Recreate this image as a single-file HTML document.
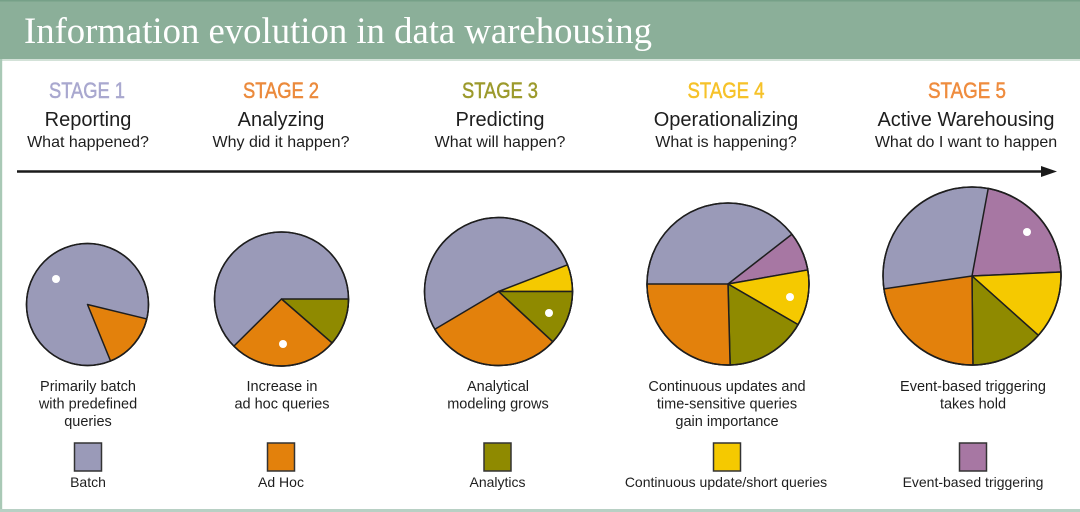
<!DOCTYPE html>
<html>
<head>
<meta charset="utf-8">
<style>
  html,body{margin:0;padding:0;background:#fff;}
  body{width:1080px;height:512px;overflow:hidden;}
  svg{display:block;}
  .s{font-family:"Liberation Sans",Arial,sans-serif;}
</style>
</head>
<body>
<svg width="1080" height="512" viewBox="0 0 1080 512" xmlns="http://www.w3.org/2000/svg">
  <rect x="0" y="0" width="1080" height="512" fill="#ffffff"/>
  <!-- title bar -->
  <rect x="0" y="0" width="1080" height="59" fill="#8baf99"/>
  <rect x="0" y="0" width="1080" height="1.5" fill="#76a088"/>
  <rect x="0" y="59" width="1080" height="2" fill="#d3e2d8"/>
  <text x="24" y="43" font-family="'Liberation Serif','Times New Roman',serif" font-size="37" fill="#ffffff" textLength="628" lengthAdjust="spacingAndGlyphs">Information evolution in data warehousing</text>
  <!-- frame borders -->
  <rect x="0" y="59" width="2.2" height="453" fill="#a9c9b6"/>
  <rect x="0" y="509" width="1080" height="3" fill="#b8d0c4"/>

  <!-- stage headers -->
  <g class="s" text-anchor="middle">
    <text x="87" y="98" font-size="22" fill="#a9a8cf" stroke="#a9a8cf" stroke-width="0.5" textLength="76" lengthAdjust="spacingAndGlyphs">STAGE 1</text>
    <text x="281" y="98" font-size="22" fill="#eb8a3c" stroke="#eb8a3c" stroke-width="0.5" textLength="76" lengthAdjust="spacingAndGlyphs">STAGE 2</text>
    <text x="500" y="98" font-size="22" fill="#9c9a2c" stroke="#9c9a2c" stroke-width="0.5" textLength="76" lengthAdjust="spacingAndGlyphs">STAGE 3</text>
    <text x="726" y="98" font-size="22" fill="#f6c229" stroke="#f6c229" stroke-width="0.5" textLength="77" lengthAdjust="spacingAndGlyphs">STAGE 4</text>
    <text x="967" y="98" font-size="22" fill="#ef8c3e" stroke="#ef8c3e" stroke-width="0.5" textLength="78" lengthAdjust="spacingAndGlyphs">STAGE 5</text>

    <g font-size="20" fill="#1e1e1e">
      <text x="88" y="126">Reporting</text>
      <text x="281" y="126">Analyzing</text>
      <text x="500" y="126">Predicting</text>
      <text x="726" y="126">Operationalizing</text>
      <text x="966" y="126">Active Warehousing</text>
    </g>
    <g font-size="16" fill="#1e1e1e">
      <text x="88" y="147">What happened?</text>
      <text x="281" y="147">Why did it happen?</text>
      <text x="500" y="147">What will happen?</text>
      <text x="726" y="147">What is happening?</text>
      <text x="966" y="147">What do I want to happen</text>
    </g>
  </g>

  <!-- arrow -->
  <line x1="17" y1="171.5" x2="1046" y2="171.5" stroke="#1a1a1a" stroke-width="2.5"/>
  <polygon points="1041,166 1057,171.5 1041,177" fill="#1a1a1a"/>

  <!-- pies -->
  <g stroke="#1e1e1e" stroke-width="1.5" stroke-linejoin="round">
    <!-- Pie 1 -->
    <circle cx="87.5" cy="304.5" r="61" fill="#9a9ab8"/>
    <path d="M87.5,304.5 L146.77,318.95 A61,61 0 0 1 110.55,360.98 Z" fill="#e3810c"/>
    <circle cx="87.5" cy="304.5" r="61" fill="none"/>

    <!-- Pie 2 -->
    <circle cx="281.5" cy="299" r="67" fill="#9a9ab8"/>
    <path d="M281.5,299 L348.5,299 A67,67 0 0 1 332.06,342.96 Z" fill="#8f8a00"/>
    <path d="M281.5,299 L332.06,342.96 A67,67 0 0 1 233.88,346.13 Z" fill="#e3810c"/>
    <circle cx="281.5" cy="299" r="67" fill="none"/>

    <!-- Pie 3 -->
    <circle cx="498.5" cy="291.5" r="74" fill="#9a9ab8"/>
    <path d="M498.5,291.5 L567.54,264.86 A74,74 0 0 1 572.5,291.5 Z" fill="#f5c900"/>
    <path d="M498.5,291.5 L572.5,291.5 A74,74 0 0 1 552.79,341.78 Z" fill="#8f8a00"/>
    <path d="M498.5,291.5 L552.79,341.78 A74,74 0 0 1 434.87,329.28 Z" fill="#e3810c"/>
    <circle cx="498.5" cy="291.5" r="74" fill="none"/>

    <!-- Pie 4 -->
    <circle cx="728" cy="284" r="81" fill="#9a9ab8"/>
    <path d="M728,284 L791.92,234.24 A81,81 0 0 1 807.77,269.94 Z" fill="#a777a3"/>
    <path d="M728,284 L807.77,269.94 A81,81 0 0 1 798.08,324.62 Z" fill="#f5c900"/>
    <path d="M728,284 L798.08,324.62 A81,81 0 0 1 730.12,364.98 Z" fill="#8f8a00"/>
    <path d="M728,284 L730.12,364.98 A81,81 0 0 1 647,284 Z" fill="#e3810c"/>
    <circle cx="728" cy="284" r="81" fill="none"/>

    <!-- Pie 5 -->
    <circle cx="972" cy="276" r="89" fill="#9a9ab8"/>
    <path d="M972,276 L988.22,188.49 A89,89 0 0 1 1060.91,271.96 Z" fill="#a777a3"/>
    <path d="M972,276 L1060.91,271.96 A89,89 0 0 1 1038.35,335.32 Z" fill="#f5c900"/>
    <path d="M972,276 L1038.35,335.32 A89,89 0 0 1 972.93,365 Z" fill="#8f8a00"/>
    <path d="M972,276 L972.93,365 A89,89 0 0 1 883.93,288.85 Z" fill="#e3810c"/>
    <circle cx="972" cy="276" r="89" fill="none"/>
  </g>

  <!-- white dots -->
  <g fill="#ffffff">
    <circle cx="56" cy="279" r="4"/>
    <circle cx="283" cy="344" r="4"/>
    <circle cx="549" cy="313" r="4"/>
    <circle cx="790" cy="297" r="4"/>
    <circle cx="1027" cy="232" r="4"/>
  </g>

  <!-- captions -->
  <g class="s" text-anchor="middle" font-size="14.5" fill="#1e1e1e">
    <text x="88" y="391">Primarily batch</text>
    <text x="88" y="408.5">with predefined</text>
    <text x="88" y="426">queries</text>

    <text x="282" y="391">Increase in</text>
    <text x="282" y="408.5">ad hoc queries</text>

    <text x="498" y="391">Analytical</text>
    <text x="498" y="408.5">modeling grows</text>

    <text x="727" y="391">Continuous updates and</text>
    <text x="727" y="408.5">time-sensitive queries</text>
    <text x="727" y="426">gain importance</text>

    <text x="973" y="391">Event-based triggering</text>
    <text x="973" y="408.5">takes hold</text>
  </g>

  <!-- legend squares -->
  <g stroke="#333333" stroke-width="1.5">
    <rect x="74.5" y="443" width="27" height="28" fill="#9a9ab8"/>
    <rect x="267.5" y="443" width="27" height="28" fill="#e3810c"/>
    <rect x="484" y="443" width="27" height="28" fill="#8f8a00"/>
    <rect x="713.5" y="443" width="27" height="28" fill="#f5c900"/>
    <rect x="959.5" y="443" width="27" height="28" fill="#a777a3"/>
  </g>
  <g class="s" text-anchor="middle" font-size="14" fill="#1e1e1e">
    <text x="88" y="487">Batch</text>
    <text x="281" y="487">Ad Hoc</text>
    <text x="497.5" y="487">Analytics</text>
    <text x="726" y="487">Continuous update/short queries</text>
    <text x="973" y="487">Event-based triggering</text>
  </g>
</svg>
</body>
</html>
